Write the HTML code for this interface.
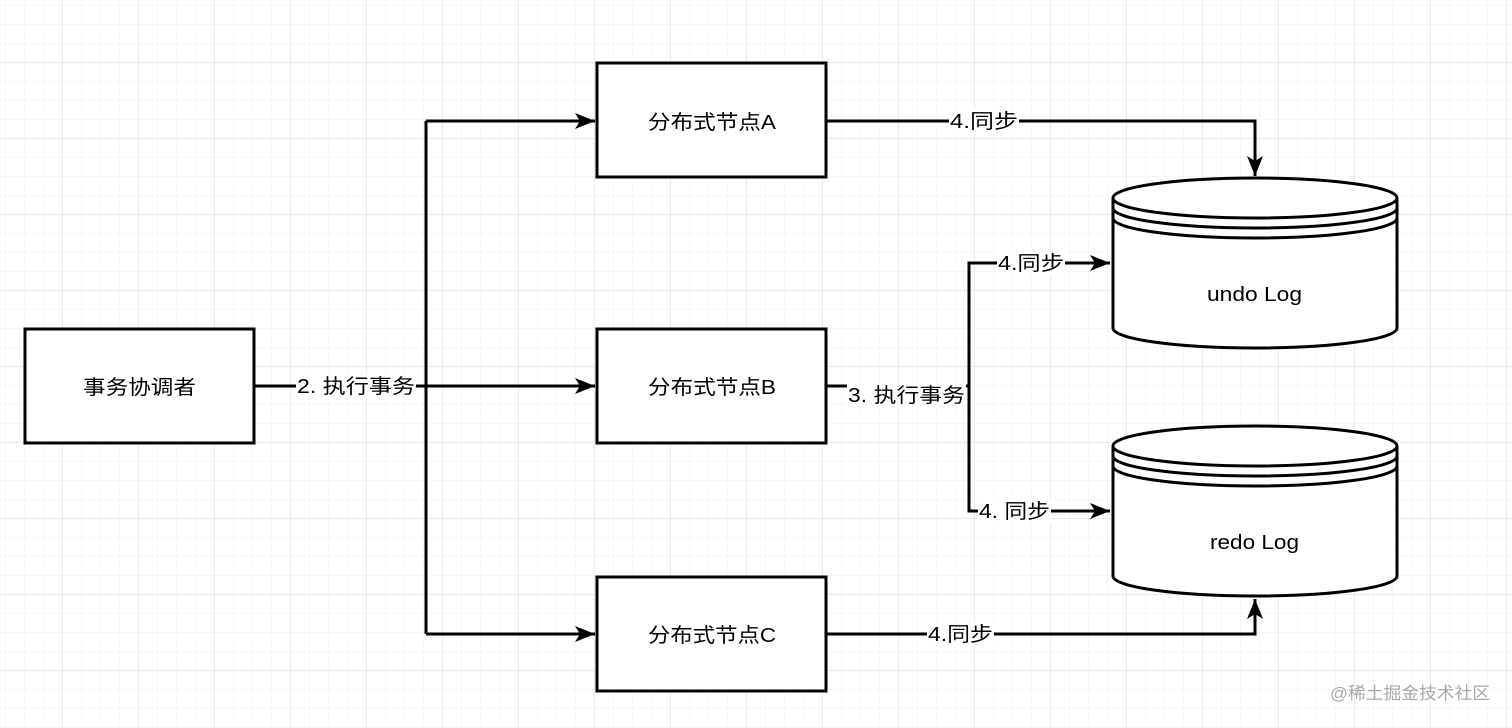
<!DOCTYPE html>
<html><head><meta charset="utf-8"><style>
html,body{margin:0;padding:0;background:#fff;}
svg{display:block;}
text{font-family:"Liberation Sans","Noto Sans CJK SC",sans-serif;fill:#000;}
</style></head><body>
<svg width="1512" height="728" viewBox="0 0 1512 728" xmlns="http://www.w3.org/2000/svg">
<defs>
<pattern id="minor" x="6" y="6" width="19" height="19" patternUnits="userSpaceOnUse">
<path d="M19 0V19M0 19H19" fill="none" stroke="#efefef" stroke-width="1"/>
</pattern>
<pattern id="major" x="-13" y="-13" width="76" height="76" patternUnits="userSpaceOnUse">
<path d="M76 0V76M0 76H76" fill="none" stroke="#d6d6d6" stroke-width="1"/>
</pattern>
<marker id="ar" viewBox="0 0 20 16" refX="20" refY="8" markerWidth="20" markerHeight="16" markerUnits="userSpaceOnUse" orient="auto">
<path d="M0 0L20 8L0 16L5 8Z" fill="#000"/>
</marker>
</defs>
<rect width="1512" height="728" fill="#fff"/>
<rect width="1512" height="728" fill="url(#minor)"/>
<rect width="1512" height="728" fill="url(#major)"/>

<g fill="none" stroke="#000" stroke-width="3">
<path d="M254 386H426"/>
<path d="M426 121V634"/>
<path d="M426 121H595" marker-end="url(#ar)"/>
<path d="M426 386H595" marker-end="url(#ar)"/>
<path d="M426 634H595" marker-end="url(#ar)"/>
<path d="M826 386H969V263H1110" marker-end="url(#ar)"/>
<path d="M969 386V511H1110" marker-end="url(#ar)"/>
<path d="M826 121H1255V176" marker-end="url(#ar)"/>
<path d="M826 634H1255V599" marker-end="url(#ar)"/>
</g>

<g fill="#fff" stroke="#000" stroke-width="3">
<rect x="25" y="329" width="229" height="114"/>
<rect x="597" y="63" width="229" height="114"/>
<rect x="597" y="329" width="229" height="114"/>
<rect x="597" y="577" width="229" height="114"/>
</g>

<g fill="#fff" stroke="#000" stroke-width="3">
<path d="M1113 198V328A142 20 0 0 0 1397 328V198A142 20 0 0 0 1113 198Z"/>
<path d="M1113 198A142 20 0 0 0 1397 198M1113 208A142 20 0 0 0 1397 208M1113 218A142 20 0 0 0 1397 218" fill="none"/>
<path d="M1113 446V576A142 20 0 0 0 1397 576V446A142 20 0 0 0 1113 446Z"/>
<path d="M1113 446A142 20 0 0 0 1397 446M1113 456A142 20 0 0 0 1397 456M1113 466A142 20 0 0 0 1397 466" fill="none"/>
</g>

<g font-size="20">
<text x="83" y="394" textLength="113" lengthAdjust="spacingAndGlyphs">事务协调者</text>
<text x="648" y="129" textLength="128" lengthAdjust="spacingAndGlyphs">分布式节点A</text>
<text x="648" y="394" textLength="128" lengthAdjust="spacingAndGlyphs">分布式节点B</text>
<text x="648" y="642" textLength="128" lengthAdjust="spacingAndGlyphs">分布式节点C</text>
<text x="1207" y="301" textLength="95" lengthAdjust="spacingAndGlyphs">undo Log</text>
<text x="1210" y="549" textLength="89" lengthAdjust="spacingAndGlyphs">redo Log</text>
</g>

<g font-size="20">
<rect x="296" y="374" width="120" height="24" fill="#fff"/>
<text x="297" y="393" textLength="118" lengthAdjust="spacingAndGlyphs">2. 执行事务</text>
<rect x="847" y="384" width="119" height="24" fill="#fff"/>
<text x="848" y="402" textLength="117" lengthAdjust="spacingAndGlyphs">3. 执行事务</text>
<rect x="949" y="109" width="70" height="24" fill="#fff"/>
<text x="950" y="128" textLength="68" lengthAdjust="spacingAndGlyphs">4.同步</text>
<rect x="997" y="251" width="68" height="24" fill="#fff"/>
<text x="998" y="270" textLength="66" lengthAdjust="spacingAndGlyphs">4.同步</text>
<rect x="978" y="499" width="73" height="24" fill="#fff"/>
<text x="979" y="518" textLength="71" lengthAdjust="spacingAndGlyphs">4. 同步</text>
<rect x="927" y="622" width="67" height="24" fill="#fff"/>
<text x="928" y="641" textLength="65" lengthAdjust="spacingAndGlyphs">4.同步</text>
</g>

<text x="1330" y="699" font-size="17" textLength="160" lengthAdjust="spacingAndGlyphs" style="fill:#a8a8a8">@稀土掘金技术社区</text>
</svg>
</body></html>
